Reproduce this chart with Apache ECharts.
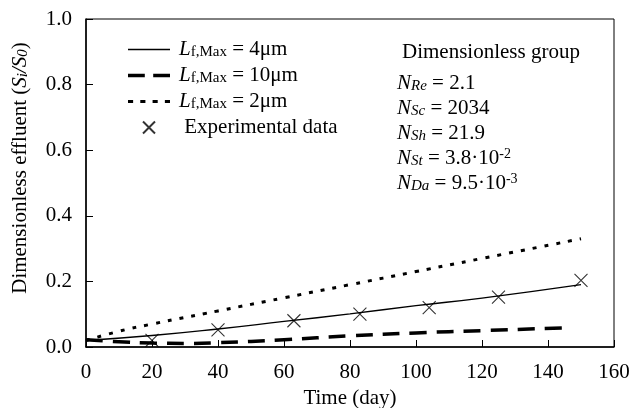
<!DOCTYPE html>
<html>
<head>
<meta charset="utf-8">
<script src="https://cdn.jsdelivr.net/npm/echarts@6/dist/echarts.min.js"></script>
<style>
  html, body {margin: 0; padding: 0; background: #fff;}
  #chart {width: 633px; height: 408px;}
</style>
</head>
<body>
<div id="chart"></div>
<script>
const FONT = 'Liberation Serif';

// model curves (time in days, dimensionless effluent)
const timeLf4 = [0, 20, 40, 60, 80, 100, 120, 150];
const valueLf4 = [0.02, 0.035, 0.055, 0.078, 0.101, 0.126, 0.149, 0.19];
const timeLf10 = [0, 10, 20, 30, 40, 60, 80, 100, 120, 147];
const valueLf10 = [0.022, 0.016, 0.012, 0.011, 0.013, 0.022, 0.034, 0.043, 0.05, 0.059];
const timeLf2 = [0, 10, 20, 40, 60, 80, 100, 120, 150];
const valueLf2 = [0.02, 0.048, 0.07, 0.11, 0.15, 0.19, 0.23, 0.27, 0.33];
// experimental points
const timeExp = [20, 40, 63, 83, 104, 125, 150];
const valueExp = [0.02, 0.052, 0.08, 0.10, 0.12, 0.152, 0.203];

const xTicks = [0, 20, 40, 60, 80, 100, 120, 140, 160];
const yTicks = [0.0, 0.2, 0.4, 0.6, 0.8, 1.0];

const groupLines = [
  ['Re', ' = 2.1', ''],
  ['Sc', ' = 2034', ''],
  ['Sh', ' = 21.9', ''],
  ['St', ' = 3.8·10', '-2'],
  ['Da', ' = 9.5·10', '-3']
];

const pair = (xs, ys) => xs.map((x, i) => [x, ys[i]]);

const rich = {
  n: {fontFamily: FONT, fontSize: 21, color: '#000', fill: '#000'},
  i: {fontFamily: FONT, fontSize: 21, fontStyle: 'italic', color: '#000', fill: '#000'},
  sub: {fontFamily: FONT, fontSize: 15, color: '#000', fill: '#000', verticalAlign: 'bottom', lineHeight: 8},
  isub: {fontFamily: FONT, fontSize: 15, fontStyle: 'italic', color: '#000', fill: '#000', verticalAlign: 'bottom', lineHeight: 8},
  sup: {fontFamily: FONT, fontSize: 14, color: '#000', fill: '#000', verticalAlign: 'top', lineHeight: 8}
};

const legendText = {
  lf4: '{i|L}{sub|f,Max}{n| = 4μm}',
  lf10: '{i|L}{sub|f,Max}{n| = 10μm}',
  lf2: '{i|L}{sub|f,Max}{n| = 2μm}',
  exp: '{n| Experimental data}'
};

const chart = echarts.init(document.getElementById('chart'));

const graphics = [{
  type: 'text', x: 402, y: 52,
  style: {text: 'Dimensionless group', fontFamily: FONT, fontSize: 21, fill: '#000', verticalAlign: 'middle'}
}];
groupLines.forEach((g, k) => {
  graphics.push({
    type: 'text', x: 397, y: 83 + k * 25,
    style: {
      text: '{i|N}{isub|' + g[0] + '}{n|' + g[1] + '}' + (g[2] ? '{sup|' + g[2] + '}' : ''),
      rich: rich, verticalAlign: 'middle', fill: '#000'
    }
  });
});

chart.setOption({
  animation: false,
  backgroundColor: '#fff',
  grid: {
    left: 86, right: 19, top: 19, bottom: 61,
    outerBoundsMode: 'none', containLabel: false,
    show: true, borderColor: '#000', borderWidth: 1
  },
  legend: {
    orient: 'vertical',
    left: 123,
    top: 34,
    itemWidth: 42,
    itemHeight: 12,
    itemGap: 5,
    textStyle: {fontFamily: FONT, fontSize: 21, color: '#000', rich: rich, padding: [0, 0, 0, 4]},
    formatter: name => legendText[name],
    data: [
      {name: 'lf4', icon: 'path://M0,0H42V1.4H0Z'},
      {name: 'lf10', icon: 'path://M0,0H16V3.5H0ZM24,0H40V3.5H24Z'},
      {name: 'lf2', icon: 'path://M0,0H5V3H0ZM12,0H17V3H12ZM24,0H29V3H24ZM36,0H41V3H36Z'},
      {name: 'exp'}
    ]
  },
  xAxis: {
    type: 'value',
    min: xTicks[0],
    max: xTicks[xTicks.length - 1],
    interval: 20,
    name: 'Time (day)',
    nameLocation: 'middle',
    nameGap: 40,
    nameTextStyle: {fontFamily: FONT, fontSize: 21, color: '#000'},
    axisLine: {lineStyle: {color: '#000', width: 1.5}},
    axisTick: {inside: true, length: 7, lineStyle: {color: '#000'}},
    axisLabel: {fontFamily: FONT, fontSize: 21, color: '#000', margin: 15},
    splitLine: {show: false}
  },
  yAxis: {
    type: 'value',
    min: yTicks[0],
    max: yTicks[yTicks.length - 1],
    interval: 0.2,
    name: '{n|Dimensionless effluent (}{i|S}{isub|i}{i|/S}{isub|0}{n|)}',
    nameLocation: 'middle',
    nameGap: 55,
    nameTextStyle: {fontFamily: FONT, fontSize: 21, color: '#000', rich: rich, padding: [0, 0, 0, 30]},
    axisLine: {lineStyle: {color: '#000', width: 1.5}},
    axisTick: {inside: true, length: 7, lineStyle: {color: '#000'}},
    axisLabel: {fontFamily: FONT, fontSize: 21, color: '#000', margin: 14, formatter: v => v.toFixed(1)},
    splitLine: {show: false}
  },
  graphic: graphics,
  series: [
    {
      name: 'lf4', type: 'line', symbol: 'none', smooth: true,
      data: pair(timeLf4, valueLf4),
      lineStyle: {color: '#000', width: 1.4, type: 'solid'},
      itemStyle: {color: '#000'}
    },
    {
      name: 'lf10', type: 'line', symbol: 'none', smooth: true,
      data: pair(timeLf10, valueLf10),
      lineStyle: {color: '#000', width: 3.5, type: [17, 10]},
      itemStyle: {color: '#000'}
    },
    {
      name: 'lf2', type: 'line', symbol: 'none', smooth: true,
      data: pair(timeLf2, valueLf2),
      lineStyle: {color: '#000', width: 3, type: [4, 8]},
      itemStyle: {color: '#000'}
    },
    {
      name: 'exp', type: 'scatter',
      symbol: 'path://M0,0L10,10M10,0L0,10',
      symbolSize: 13,
      data: pair(timeExp, valueExp),
      itemStyle: {color: 'transparent', borderColor: '#000', borderWidth: 1.1}
    }
  ]
});
</script>
</body>
</html>
